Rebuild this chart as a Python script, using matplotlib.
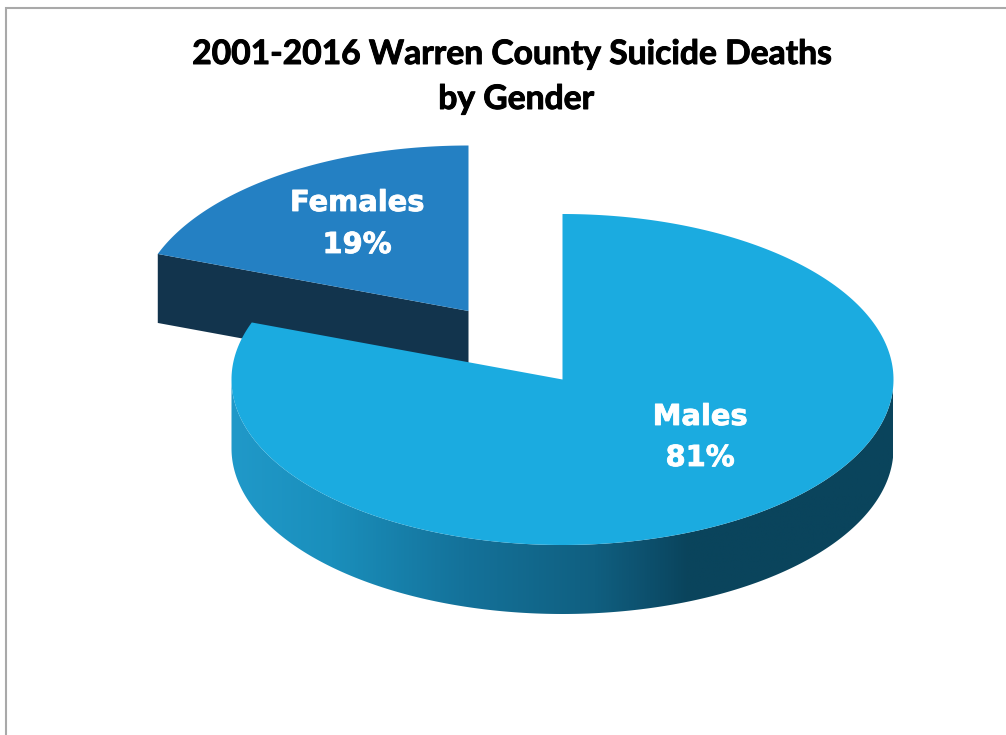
import numpy as np
import matplotlib
matplotlib.use("Agg")
import matplotlib.pyplot as plt
import matplotlib.patheffects as pe
from matplotlib.colors import LinearSegmentedColormap
from matplotlib.patches import Polygon

title = "2001-2016 Warren County Suicide Deaths\nby Gender"
names = ["Males", "Females"]
# shown rounded to 81% / 19%, the cut sits slightly past those
shares = [80.6, 19.4]

colors_top = ["#1babe0", "#2480c3"]
color_female_side = "#12344d"
side_stops = [(0.0, "#2099c9"), (0.15, "#1a8fbc"), (0.35, "#14729a"),
              (0.55, "#105f80"), (0.65, "#0c4c68"), (0.69, "#0a445c"), (1.0, "#0a445c")]

W, H = 1006, 735
RX, RY = 331, 165.5
DEPTH = 69
centers = {"Males": (562.5, 379.5), "Females": (468.5, 311)}


def rim(name, t):
    # t in degrees, clockwise from 12 o'clock
    cx, cy = centers[name]
    t = np.radians(t)
    return np.column_stack([cx + RX * np.sin(t), cy - RY * np.cos(t)])


fig = plt.figure(figsize=(W / 100, H / 100), dpi=100)
ax = fig.add_axes([0, 0, 1, 1])

cut = shares[0] * 3.6
t_male = np.linspace(0, cut, 300)
t_female = np.linspace(cut, 360, 100)

# female slice, side face then top
apex = np.array(centers["Females"])
outer = rim("Females", cut)[0]
down = np.array([0, DEPTH])
ax.add_patch(Polygon([apex, outer, outer + down, apex + down], fc=color_female_side, ec="none", zorder=1))
ax.add_patch(Polygon(np.vstack([[apex], rim("Females", t_female)]), fc=colors_top[1], ec="none", zorder=2))

# male slice, gradient wall then top
front = rim("Males", np.linspace(90, 270, 300))
wall = Polygon(np.vstack([front, (front + down)[::-1]]), fc="none", ec="none", zorder=3)
ax.add_patch(wall)
cmap = LinearSegmentedColormap.from_list("wall", side_stops)
x0, x1 = front[:, 0].min(), front[:, 0].max()
im = ax.imshow(np.linspace(0, 1, 512).reshape(1, -1), cmap=cmap, aspect="auto", zorder=3,
               extent=[x0, x1, front[:, 1].max() + DEPTH, front[:, 1].min()])
im.set_clip_path(wall)
ax.add_patch(Polygon(np.vstack([[centers["Males"]], rim("Males", t_male)]), fc=colors_top[0], ec="none", zorder=4))

# chart border
ax.plot([6.5, 6.5, W], [H, 8, 8], color="#a9a9a9", lw=1.5, solid_joinstyle="miter", zorder=5)

# thin stroke, the reference type is heavier than Lato Bold
heavy = [pe.withStroke(linewidth=0.7, foreground="black")]
ax.text(512, 54, title.split("\n")[0], ha="center", va="center", fontsize=24.2, fontweight="bold",
        family="Lato", color="black", path_effects=heavy)
ax.text(516, 99, title.split("\n")[1], ha="center", va="center", fontsize=24.2, fontweight="bold",
        family="Lato", color="black", path_effects=heavy)

heavy_w = [pe.withStroke(linewidth=0.6, foreground="white")]
labels = [(357, 203, names[1]), (357, 245, f"{shares[1]:.0f}%"),
          (700, 417, names[0]), (700, 458, f"{shares[0]:.0f}%")]
for x, y, s in labels:
    ax.text(x, y, s, ha="center", va="center", fontsize=20.8, fontweight="bold",
            family="DejaVu Sans", color="white", zorder=6, path_effects=heavy_w)

ax.set_xlim(0, W)
ax.set_ylim(H, 0)
ax.axis("off")
fig.savefig("out.png", dpi=100, facecolor="white")
